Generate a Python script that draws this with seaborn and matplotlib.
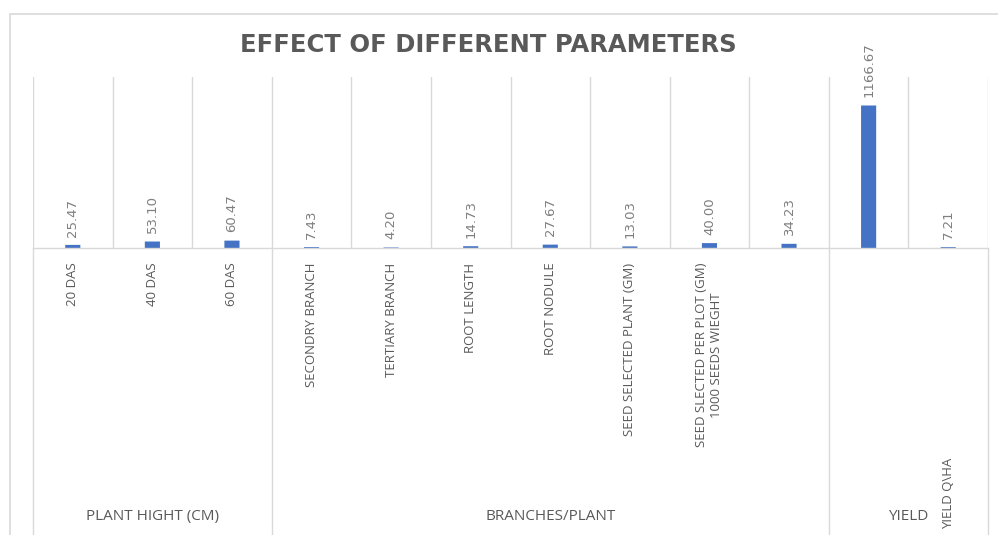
import numpy as np
import pandas as pd
import matplotlib
matplotlib.use('Agg')
import matplotlib.pyplot as plt
import matplotlib.transforms as mtransforms
import seaborn as sns
from matplotlib.patches import Rectangle

# 数据
tick_labels = ['20 DAS', '40 DAS', '60 DAS', 'SECONDRY BRANCH', 'TERTIARY BRANCH',
               'ROOT LENGTH', 'ROOT NODULE', 'SEED SELECTED PLANT (GM)',
               'SEED SLECTED PER PLOT (GM)\n1000 SEEDS WIEGHT', '', '', 'YIELD Q\\HA']
values = [25.47, 53.10, 60.47, 7.43, 4.20, 14.73, 27.67, 13.03, 40.00, 34.23, 1166.67, 7.21]
groups = ['PLANT HIGHT (CM)', 'BRANCHES/PLANT', 'YIELD']
group_sizes = [3, 7, 2]

df = pd.DataFrame({'pos': np.arange(len(values)), 'value': values})

sns.set_theme(style='white')
plt.rcParams['font.family'] = ['Open Sans', 'DejaVu Sans']

bar_color = '#4472C4'
grid_color = '#D9D9D9'
text_color = '#595959'

fig = plt.figure(figsize=(9.98, 5.35), dpi=100)
ax = fig.add_axes([33 / 998, 1 - 248 / 535, (988 - 33) / 998, (248 - 77) / 535])

sns.barplot(data=df, x='pos', y='value', color=bar_color, saturation=1,
            width=0.19, ax=ax, linewidth=0, errorbar=None)
# 很矮的柱子不要像素对齐
for p in ax.patches:
    p.set_snap(False)

ax.set_ylim(0, 1400)
ax.set_xlim(-0.5, len(values) - 0.5)
ax.set_xlabel('')
ax.set_ylabel('')
ax.set_yticks([])

# 类别分隔线
ax.set_xticks(np.arange(-0.5, len(values)), minor=True)
ax.grid(which='minor', axis='x', color=grid_color, linewidth=1)
ax.grid(which='major', visible=False)
for side in ['top', 'left', 'right']:
    ax.spines[side].set_visible(False)
ax.spines['bottom'].set_color(grid_color)
ax.spines['bottom'].set_linewidth(1)

# 类别标签
ax.set_xticks(np.arange(len(values)))
ax.set_xticklabels(tick_labels, rotation=90, fontsize=9.5, color=text_color,
                   multialignment='center')
ax.tick_params(axis='x', which='both', length=0, pad=10.5)
ax.xaxis.get_major_ticks()[11].set_pad(151)

# 数据标签
label_trans = mtransforms.offset_copy(ax.transData, fig=fig, x=0, y=6, units='points')
for i, v in enumerate(values):
    ax.text(i, v, f'{v:.2f}', rotation=90, ha='center', va='bottom',
            fontsize=9.5, color='#7f7f7f', transform=label_trans,
            family=['Liberation Sans Narrow', 'DejaVu Sans'])

# 分组标签和分隔线
trans = ax.get_xaxis_transform()
start = -0.5
for name, size in zip(groups, group_sizes):
    ax.plot([start, start], [0, -2], color=grid_color, lw=1,
            transform=trans, clip_on=False)
    ax.text(start + size / 2, -1.573, name, transform=trans, ha='center',
            va='center', fontsize=11, color=text_color, clip_on=False)
    start += size
ax.plot([start, start], [0, -2], color=grid_color, lw=1,
        transform=trans, clip_on=False)

# 图表外框
fig.patches.append(Rectangle((10 / 998, -0.1), 1.2, 1 - 14 / 535 + 0.1,
                             transform=fig.transFigure, fill=False,
                             edgecolor=grid_color, lw=1.2))

fig.text(488 / 998, 1 - 45 / 535, 'EFFECT OF DIFFERENT PARAMETERS',
         ha='center', va='center', fontsize=17.5, fontweight='bold',
         color=text_color, family=['DejaVu Sans'])

fig.savefig('out.png', dpi=100)
